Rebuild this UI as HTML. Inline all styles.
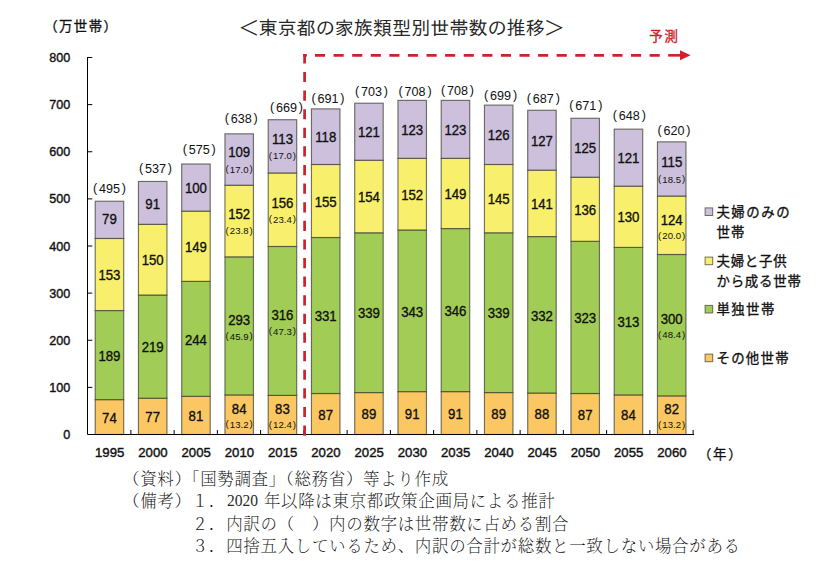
<!DOCTYPE html>
<html lang="ja"><head><meta charset="utf-8"><title>東京都の家族類型別世帯数の推移</title>
<style>html,body{margin:0;padding:0;background:#fff}svg{display:block}</style></head>
<body>
<svg width="840" height="571" viewBox="0 0 840 571">
<rect width="840" height="571" fill="#ffffff"/>
<g stroke="rgba(62,62,50,0.72)" stroke-width="1.15">
<rect x="95.20" y="399.63" width="28.50" height="34.87" fill="#FBC762"/>
<rect x="95.20" y="310.56" width="28.50" height="89.07" fill="#A1CC55"/>
<rect x="95.20" y="238.46" width="28.50" height="72.10" fill="#F8F06C"/>
<rect x="95.20" y="201.23" width="28.50" height="37.23" fill="#CCC0DC"/>
<rect x="138.45" y="398.21" width="28.50" height="36.29" fill="#FBC762"/>
<rect x="138.45" y="295.01" width="28.50" height="103.20" fill="#A1CC55"/>
<rect x="138.45" y="224.32" width="28.50" height="70.69" fill="#F8F06C"/>
<rect x="138.45" y="181.44" width="28.50" height="42.88" fill="#CCC0DC"/>
<rect x="181.70" y="396.33" width="28.50" height="38.17" fill="#FBC762"/>
<rect x="181.70" y="281.34" width="28.50" height="114.99" fill="#A1CC55"/>
<rect x="181.70" y="211.13" width="28.50" height="70.22" fill="#F8F06C"/>
<rect x="181.70" y="164.00" width="28.50" height="47.12" fill="#CCC0DC"/>
<rect x="224.95" y="394.92" width="28.50" height="39.58" fill="#FBC762"/>
<rect x="224.95" y="256.84" width="28.50" height="138.08" fill="#A1CC55"/>
<rect x="224.95" y="185.21" width="28.50" height="71.63" fill="#F8F06C"/>
<rect x="224.95" y="133.84" width="28.50" height="51.37" fill="#CCC0DC"/>
<rect x="268.20" y="395.39" width="28.50" height="39.11" fill="#FBC762"/>
<rect x="268.20" y="246.47" width="28.50" height="148.92" fill="#A1CC55"/>
<rect x="268.20" y="172.96" width="28.50" height="73.51" fill="#F8F06C"/>
<rect x="268.20" y="119.70" width="28.50" height="53.25" fill="#CCC0DC"/>
<rect x="311.45" y="393.50" width="28.50" height="41.00" fill="#FBC762"/>
<rect x="311.45" y="237.52" width="28.50" height="155.98" fill="#A1CC55"/>
<rect x="311.45" y="164.47" width="28.50" height="73.04" fill="#F8F06C"/>
<rect x="311.45" y="108.87" width="28.50" height="55.61" fill="#CCC0DC"/>
<rect x="354.70" y="392.56" width="28.50" height="41.94" fill="#FBC762"/>
<rect x="354.70" y="232.81" width="28.50" height="159.75" fill="#A1CC55"/>
<rect x="354.70" y="160.23" width="28.50" height="72.57" fill="#F8F06C"/>
<rect x="354.70" y="103.21" width="28.50" height="57.02" fill="#CCC0DC"/>
<rect x="397.95" y="391.62" width="28.50" height="42.88" fill="#FBC762"/>
<rect x="397.95" y="229.98" width="28.50" height="161.64" fill="#A1CC55"/>
<rect x="397.95" y="158.35" width="28.50" height="71.63" fill="#F8F06C"/>
<rect x="397.95" y="100.38" width="28.50" height="57.96" fill="#CCC0DC"/>
<rect x="441.20" y="391.62" width="28.50" height="42.88" fill="#FBC762"/>
<rect x="441.20" y="228.56" width="28.50" height="163.05" fill="#A1CC55"/>
<rect x="441.20" y="158.35" width="28.50" height="70.22" fill="#F8F06C"/>
<rect x="441.20" y="100.38" width="28.50" height="57.96" fill="#CCC0DC"/>
<rect x="484.45" y="392.56" width="28.50" height="41.94" fill="#FBC762"/>
<rect x="484.45" y="232.81" width="28.50" height="159.75" fill="#A1CC55"/>
<rect x="484.45" y="164.47" width="28.50" height="68.33" fill="#F8F06C"/>
<rect x="484.45" y="105.10" width="28.50" height="59.38" fill="#CCC0DC"/>
<rect x="527.70" y="393.03" width="28.50" height="41.47" fill="#FBC762"/>
<rect x="527.70" y="236.57" width="28.50" height="156.45" fill="#A1CC55"/>
<rect x="527.70" y="170.13" width="28.50" height="66.45" fill="#F8F06C"/>
<rect x="527.70" y="110.28" width="28.50" height="59.85" fill="#CCC0DC"/>
<rect x="570.95" y="393.50" width="28.50" height="41.00" fill="#FBC762"/>
<rect x="570.95" y="241.29" width="28.50" height="152.21" fill="#A1CC55"/>
<rect x="570.95" y="177.20" width="28.50" height="64.09" fill="#F8F06C"/>
<rect x="570.95" y="118.29" width="28.50" height="58.91" fill="#CCC0DC"/>
<rect x="614.20" y="394.92" width="28.50" height="39.58" fill="#FBC762"/>
<rect x="614.20" y="247.41" width="28.50" height="147.50" fill="#A1CC55"/>
<rect x="614.20" y="186.15" width="28.50" height="61.26" fill="#F8F06C"/>
<rect x="614.20" y="129.13" width="28.50" height="57.02" fill="#CCC0DC"/>
<rect x="657.45" y="395.86" width="28.50" height="38.64" fill="#FBC762"/>
<rect x="657.45" y="254.48" width="28.50" height="141.38" fill="#A1CC55"/>
<rect x="657.45" y="196.05" width="28.50" height="58.44" fill="#F8F06C"/>
<rect x="657.45" y="141.85" width="28.50" height="54.19" fill="#CCC0DC"/>
</g>
<g stroke="#000" stroke-width="1" fill="none">
<path d="M87.50 57.00 V434.50 H694.00"/>
<path d="M88.00 387.38 h4.3"/>
<path d="M88.00 340.25 h4.3"/>
<path d="M88.00 293.12 h4.3"/>
<path d="M88.00 246.00 h4.3"/>
<path d="M88.00 198.88 h4.3"/>
<path d="M88.00 151.75 h4.3"/>
<path d="M88.00 104.62 h4.3"/>
<path d="M88.00 57.50 h4.3"/>
<path d="M130.88 434.20 v-4.2"/>
<path d="M174.12 434.20 v-4.2"/>
<path d="M217.38 434.20 v-4.2"/>
<path d="M260.62 434.20 v-4.2"/>
<path d="M303.88 434.20 v-4.2"/>
<path d="M347.12 434.20 v-4.2"/>
<path d="M390.38 434.20 v-4.2"/>
<path d="M433.62 434.20 v-4.2"/>
<path d="M476.88 434.20 v-4.2"/>
<path d="M520.12 434.20 v-4.2"/>
<path d="M563.38 434.20 v-4.2"/>
<path d="M606.62 434.20 v-4.2"/>
<path d="M649.88 434.20 v-4.2"/>
<path d="M693.12 434.20 v-4.2"/>
</g>
<g font-family='"Liberation Sans","Noto Sans CJK JP",sans-serif' font-size="13.4" text-anchor="end" fill="#111" stroke="#111" stroke-width="0.4">
<text transform="translate(70.3 439.00) scale(0.94 1)">0</text>
<text transform="translate(70.3 391.88) scale(0.94 1)">100</text>
<text transform="translate(70.3 344.75) scale(0.94 1)">200</text>
<text transform="translate(70.3 297.62) scale(0.94 1)">300</text>
<text transform="translate(70.3 250.50) scale(0.94 1)">400</text>
<text transform="translate(70.3 203.38) scale(0.94 1)">500</text>
<text transform="translate(70.3 156.25) scale(0.94 1)">600</text>
<text transform="translate(70.3 109.12) scale(0.94 1)">700</text>
<text transform="translate(70.3 62.00) scale(0.94 1)">800</text>
</g>
<g font-family='"Liberation Sans","Noto Sans CJK JP",sans-serif' font-size="13.4" text-anchor="middle" fill="#111" stroke="#111" stroke-width="0.4">
<text transform="translate(109.65 456.7) scale(0.985 1)">1995</text>
<text transform="translate(152.90 456.7) scale(0.985 1)">2000</text>
<text transform="translate(196.15 456.7) scale(0.985 1)">2005</text>
<text transform="translate(239.40 456.7) scale(0.985 1)">2010</text>
<text transform="translate(282.65 456.7) scale(0.985 1)">2015</text>
<text transform="translate(325.90 456.7) scale(0.985 1)">2020</text>
<text transform="translate(369.15 456.7) scale(0.985 1)">2025</text>
<text transform="translate(412.40 456.7) scale(0.985 1)">2030</text>
<text transform="translate(455.65 456.7) scale(0.985 1)">2035</text>
<text transform="translate(498.90 456.7) scale(0.985 1)">2040</text>
<text transform="translate(542.15 456.7) scale(0.985 1)">2045</text>
<text transform="translate(585.40 456.7) scale(0.985 1)">2050</text>
<text transform="translate(628.65 456.7) scale(0.985 1)">2055</text>
<text transform="translate(671.90 456.7) scale(0.985 1)">2060</text>
</g>
<g font-family='"Liberation Sans","Noto Sans CJK JP",sans-serif' text-anchor="middle" fill="#111" stroke="#111" stroke-width="0.35">
<text font-size="14.67" transform="translate(109.45 422.76) scale(0.9 1)">74</text>
<text font-size="14.67" transform="translate(109.45 360.79) scale(0.9 1)">189</text>
<text font-size="14.67" transform="translate(109.45 280.21) scale(0.9 1)">153</text>
<text font-size="14.67" transform="translate(109.45 224.15) scale(0.9 1)">79</text>
<text font-size="14.67" transform="translate(152.70 422.06) scale(0.9 1)">77</text>
<text font-size="14.67" transform="translate(152.70 352.31) scale(0.9 1)">219</text>
<text font-size="14.67" transform="translate(152.70 265.37) scale(0.9 1)">150</text>
<text font-size="14.67" transform="translate(152.70 208.58) scale(0.9 1)">91</text>
<text font-size="14.67" transform="translate(195.95 421.11) scale(0.9 1)">81</text>
<text font-size="14.67" transform="translate(195.95 344.54) scale(0.9 1)">244</text>
<text font-size="14.67" transform="translate(195.95 251.94) scale(0.9 1)">149</text>
<text font-size="14.67" transform="translate(195.95 193.26) scale(0.9 1)">100</text>
<text font-size="14.67" transform="translate(239.20 413.81) scale(0.9 1)">84</text>
<text font-size="9.9" stroke="none" transform="translate(239.20 427.81) scale(0.97 1)"><tspan dy="-0.5">(</tspan><tspan dx="1.1" dy="0.5">13.2</tspan><tspan dx="1.1" dy="-0.5">)</tspan></text>
<text font-size="14.67" transform="translate(239.20 324.68) scale(0.9 1)">293</text>
<text font-size="9.9" stroke="none" transform="translate(239.20 339.78) scale(0.97 1)"><tspan dy="-0.5">(</tspan><tspan dx="1.1" dy="0.5">45.9</tspan><tspan dx="1.1" dy="-0.5">)</tspan></text>
<text font-size="14.67" transform="translate(239.20 219.42) scale(0.9 1)">152</text>
<text font-size="9.9" stroke="none" transform="translate(239.20 234.12) scale(0.97 1)"><tspan dy="-0.5">(</tspan><tspan dx="1.1" dy="0.5">23.8</tspan><tspan dx="1.1" dy="-0.5">)</tspan></text>
<text font-size="14.67" transform="translate(239.20 157.13) scale(0.9 1)">109</text>
<text font-size="9.9" stroke="none" transform="translate(239.20 172.63) scale(0.97 1)"><tspan dy="-0.5">(</tspan><tspan dx="1.1" dy="0.5">17.0</tspan><tspan dx="1.1" dy="-0.5">)</tspan></text>
<text font-size="14.67" transform="translate(282.45 414.04) scale(0.9 1)">83</text>
<text font-size="9.9" stroke="none" transform="translate(282.45 428.04) scale(0.97 1)"><tspan dy="-0.5">(</tspan><tspan dx="1.1" dy="0.5">12.4</tspan><tspan dx="1.1" dy="-0.5">)</tspan></text>
<text font-size="14.67" transform="translate(282.45 319.73) scale(0.9 1)">316</text>
<text font-size="9.9" stroke="none" transform="translate(282.45 334.83) scale(0.97 1)"><tspan dy="-0.5">(</tspan><tspan dx="1.1" dy="0.5">47.3</tspan><tspan dx="1.1" dy="-0.5">)</tspan></text>
<text font-size="14.67" transform="translate(282.45 208.11) scale(0.9 1)">156</text>
<text font-size="9.9" stroke="none" transform="translate(282.45 222.81) scale(0.97 1)"><tspan dy="-0.5">(</tspan><tspan dx="1.1" dy="0.5">23.4</tspan><tspan dx="1.1" dy="-0.5">)</tspan></text>
<text font-size="14.67" transform="translate(282.45 143.93) scale(0.9 1)">113</text>
<text font-size="9.9" stroke="none" transform="translate(282.45 159.43) scale(0.97 1)"><tspan dy="-0.5">(</tspan><tspan dx="1.1" dy="0.5">17.0</tspan><tspan dx="1.1" dy="-0.5">)</tspan></text>
<text font-size="14.67" transform="translate(325.70 419.70) scale(0.9 1)">87</text>
<text font-size="14.67" transform="translate(325.70 321.21) scale(0.9 1)">331</text>
<text font-size="14.67" transform="translate(325.70 206.70) scale(0.9 1)">155</text>
<text font-size="14.67" transform="translate(325.70 142.37) scale(0.9 1)">118</text>
<text font-size="14.67" transform="translate(368.95 419.23) scale(0.9 1)">89</text>
<text font-size="14.67" transform="translate(368.95 318.38) scale(0.9 1)">339</text>
<text font-size="14.67" transform="translate(368.95 202.22) scale(0.9 1)">154</text>
<text font-size="14.67" transform="translate(368.95 137.42) scale(0.9 1)">121</text>
<text font-size="14.67" transform="translate(412.20 418.76) scale(0.9 1)">91</text>
<text font-size="14.67" transform="translate(412.20 316.50) scale(0.9 1)">343</text>
<text font-size="14.67" transform="translate(412.20 199.86) scale(0.9 1)">152</text>
<text font-size="14.67" transform="translate(412.20 135.07) scale(0.9 1)">123</text>
<text font-size="14.67" transform="translate(455.45 418.76) scale(0.9 1)">91</text>
<text font-size="14.67" transform="translate(455.45 315.79) scale(0.9 1)">346</text>
<text font-size="14.67" transform="translate(455.45 199.16) scale(0.9 1)">149</text>
<text font-size="14.67" transform="translate(455.45 135.07) scale(0.9 1)">123</text>
<text font-size="14.67" transform="translate(498.70 419.23) scale(0.9 1)">89</text>
<text font-size="14.67" transform="translate(498.70 318.38) scale(0.9 1)">339</text>
<text font-size="14.67" transform="translate(498.70 204.34) scale(0.9 1)">145</text>
<text font-size="14.67" transform="translate(498.70 140.49) scale(0.9 1)">126</text>
<text font-size="14.67" transform="translate(541.95 419.46) scale(0.9 1)">88</text>
<text font-size="14.67" transform="translate(541.95 320.50) scale(0.9 1)">332</text>
<text font-size="14.67" transform="translate(541.95 209.05) scale(0.9 1)">141</text>
<text font-size="14.67" transform="translate(541.95 145.90) scale(0.9 1)">127</text>
<text font-size="14.67" transform="translate(585.20 419.70) scale(0.9 1)">87</text>
<text font-size="14.67" transform="translate(585.20 323.09) scale(0.9 1)">323</text>
<text font-size="14.67" transform="translate(585.20 214.94) scale(0.9 1)">136</text>
<text font-size="14.67" transform="translate(585.20 153.44) scale(0.9 1)">125</text>
<text font-size="14.67" transform="translate(628.45 420.41) scale(0.9 1)">84</text>
<text font-size="14.67" transform="translate(628.45 326.86) scale(0.9 1)">313</text>
<text font-size="14.67" transform="translate(628.45 222.48) scale(0.9 1)">130</text>
<text font-size="14.67" transform="translate(628.45 163.34) scale(0.9 1)">121</text>
<text font-size="14.67" transform="translate(671.70 414.28) scale(0.9 1)">82</text>
<text font-size="9.9" stroke="none" transform="translate(671.70 428.28) scale(0.97 1)"><tspan dy="-0.5">(</tspan><tspan dx="1.1" dy="0.5">13.2</tspan><tspan dx="1.1" dy="-0.5">)</tspan></text>
<text font-size="14.67" transform="translate(671.70 323.97) scale(0.9 1)">300</text>
<text font-size="9.9" stroke="none" transform="translate(671.70 338.47) scale(0.97 1)"><tspan dy="-0.5">(</tspan><tspan dx="1.1" dy="0.5">48.4</tspan><tspan dx="1.1" dy="-0.5">)</tspan></text>
<text font-size="14.67" transform="translate(671.70 224.96) scale(0.9 1)">124</text>
<text font-size="9.9" stroke="none" transform="translate(671.70 239.26) scale(0.97 1)"><tspan dy="-0.5">(</tspan><tspan dx="1.1" dy="0.5">20.0</tspan><tspan dx="1.1" dy="-0.5">)</tspan></text>
<text font-size="14.67" transform="translate(671.70 167.45) scale(0.9 1)">115</text>
<text font-size="9.9" stroke="none" transform="translate(671.70 182.65) scale(0.97 1)"><tspan dy="-0.5">(</tspan><tspan dx="1.1" dy="0.5">18.5</tspan><tspan dx="1.1" dy="-0.5">)</tspan></text>
</g>
<g font-family='"Liberation Sans","Noto Sans CJK JP",sans-serif' font-size="13.4" text-anchor="middle" fill="#111">
<text transform="translate(109.45 193.00) scale(0.94 1)"><tspan dy="-0.8">(</tspan><tspan dx="1.9" dy="0.8">495</tspan><tspan dx="1.9" dy="-0.8">)</tspan></text>
<text transform="translate(155.50 173.00) scale(0.94 1)"><tspan dy="-0.8">(</tspan><tspan dx="1.9" dy="0.8">537</tspan><tspan dx="1.9" dy="-0.8">)</tspan></text>
<text transform="translate(199.15 153.75) scale(0.94 1)"><tspan dy="-0.8">(</tspan><tspan dx="1.9" dy="0.8">575</tspan><tspan dx="1.9" dy="-0.8">)</tspan></text>
<text transform="translate(241.30 122.50) scale(0.94 1)"><tspan dy="-0.8">(</tspan><tspan dx="1.9" dy="0.8">638</tspan><tspan dx="1.9" dy="-0.8">)</tspan></text>
<text transform="translate(286.45 112.00) scale(0.94 1)"><tspan dy="-0.8">(</tspan><tspan dx="1.9" dy="0.8">669</tspan><tspan dx="1.9" dy="-0.8">)</tspan></text>
<text transform="translate(328.00 102.50) scale(0.94 1)"><tspan dy="-0.8">(</tspan><tspan dx="1.9" dy="0.8">691</tspan><tspan dx="1.9" dy="-0.8">)</tspan></text>
<text transform="translate(371.45 95.75) scale(0.94 1)"><tspan dy="-0.8">(</tspan><tspan dx="1.9" dy="0.8">703</tspan><tspan dx="1.9" dy="-0.8">)</tspan></text>
<text transform="translate(415.10 95.75) scale(0.94 1)"><tspan dy="-0.8">(</tspan><tspan dx="1.9" dy="0.8">708</tspan><tspan dx="1.9" dy="-0.8">)</tspan></text>
<text transform="translate(457.55 94.50) scale(0.94 1)"><tspan dy="-0.8">(</tspan><tspan dx="1.9" dy="0.8">708</tspan><tspan dx="1.9" dy="-0.8">)</tspan></text>
<text transform="translate(500.60 99.50) scale(0.94 1)"><tspan dy="-0.8">(</tspan><tspan dx="1.9" dy="0.8">699</tspan><tspan dx="1.9" dy="-0.8">)</tspan></text>
<text transform="translate(543.35 102.50) scale(0.94 1)"><tspan dy="-0.8">(</tspan><tspan dx="1.9" dy="0.8">687</tspan><tspan dx="1.9" dy="-0.8">)</tspan></text>
<text transform="translate(585.85 109.70) scale(0.94 1)"><tspan dy="-0.8">(</tspan><tspan dx="1.9" dy="0.8">671</tspan><tspan dx="1.9" dy="-0.8">)</tspan></text>
<text transform="translate(629.35 120.00) scale(0.94 1)"><tspan dy="-0.8">(</tspan><tspan dx="1.9" dy="0.8">648</tspan><tspan dx="1.9" dy="-0.8">)</tspan></text>
<text transform="translate(674.00 134.50) scale(0.94 1)"><tspan dy="-0.8">(</tspan><tspan dx="1.9" dy="0.8">620</tspan><tspan dx="1.9" dy="-0.8">)</tspan></text>
</g>
<g stroke="#CC2229" stroke-width="2.7" fill="none">
<path d="M304.6 435.7 V54" stroke-dasharray="10.2 8.41"/>
<path d="M303.3 55.3 H306.8"/>
<path d="M315 55.3 H668.3" stroke-dasharray="10.1 8.49"/>
<path d="M668.2 55.3 H682"/>
</g>
<path d="M680 50.2 L690.6 55.3 L680 60.3 Z" fill="#CC2229"/>
<text x="649.2" y="41" font-family='"Liberation Sans","Noto Sans CJK JP",sans-serif' font-size="13.4" letter-spacing="1.9" stroke="#CC2229" stroke-width="0.35" fill="#CC2229">予測</text>
<text x="239.3" y="35.3" font-family='"Liberation Sans","IPAGothic","Noto Sans CJK JP",sans-serif' font-size="19.1" fill="#262626">＜東京都の家族類型別世帯数の推移＞</text>
<text x="44.2" y="31.3" font-family='"Liberation Sans","Noto Sans CJK JP",sans-serif' font-size="13.4" letter-spacing="1.45" stroke="#111" stroke-width="0.3" fill="#111">（万世帯）</text>
<text x="698" y="458.6" font-family='"Liberation Sans","Noto Sans CJK JP",sans-serif' font-size="13.4" letter-spacing="1.7" stroke="#111" stroke-width="0.3" fill="#111">（年）</text>
<g font-family='"Liberation Sans","Noto Sans CJK JP",sans-serif' font-size="13.4" letter-spacing="1.35" stroke="#111" stroke-width="0.32" fill="#111">
<rect x="705.1" y="207.90" width="7.6" height="7.6" fill="#CCC0DC" stroke="rgba(62,62,50,0.72)" stroke-width="1"/>
<text x="716.4" y="216.90" letter-spacing="1.55">夫婦のみの</text>
<text x="716.4" y="236.50" letter-spacing="1.30">世帯</text>
<rect x="705.1" y="257.10" width="7.6" height="7.6" fill="#F8F06C" stroke="rgba(62,62,50,0.72)" stroke-width="1"/>
<text x="716.4" y="266.10" letter-spacing="0.85">夫婦と子供</text>
<text x="716.4" y="285.70" letter-spacing="0.85">から成る世帯</text>
<rect x="705.1" y="305.40" width="7.6" height="7.6" fill="#A1CC55" stroke="rgba(62,62,50,0.72)" stroke-width="1"/>
<text x="716.4" y="314.40" letter-spacing="1.45">単独世帯</text>
<rect x="705.1" y="354.10" width="7.6" height="7.6" fill="#FBC762" stroke="rgba(62,62,50,0.72)" stroke-width="1"/>
<text x="716.4" y="363.10" letter-spacing="1.35">その他世帯</text>
</g>
<g font-family='"Liberation Serif","Noto Serif CJK JP","Noto Serif CJK SC",serif' font-size="16.5" font-weight="200" fill="#111" letter-spacing="0.65" style="text-spacing-trim:space-all;font-kerning:none">
<text x="123" y="484.5">（資料）<tspan dx="-8.6">「国勢調査」</tspan><tspan dx="-8.6">（総務省）等より作成</tspan></text>
<text x="123" y="507">（備考）</text>
<text x="191.7" y="507">１．</text><text transform="translate(226.9 505.9) scale(0.915 1)" font-size="17" letter-spacing="0" fill="#2b2b2b">2020</text><text x="263.9" y="507">年以降は東京都政策企画局による推計</text>
<text x="191.7" y="529.7">２．</text><text x="226.2" y="529.7">内訳の（　）内の数字は世帯数に占める割合</text>
<text x="191.7" y="552.3">３．</text><text x="226.2" y="552.3">四捨五入しているため、内訳の合計が総数と一致しない場合がある</text>
</g>
</svg>
</body></html>
